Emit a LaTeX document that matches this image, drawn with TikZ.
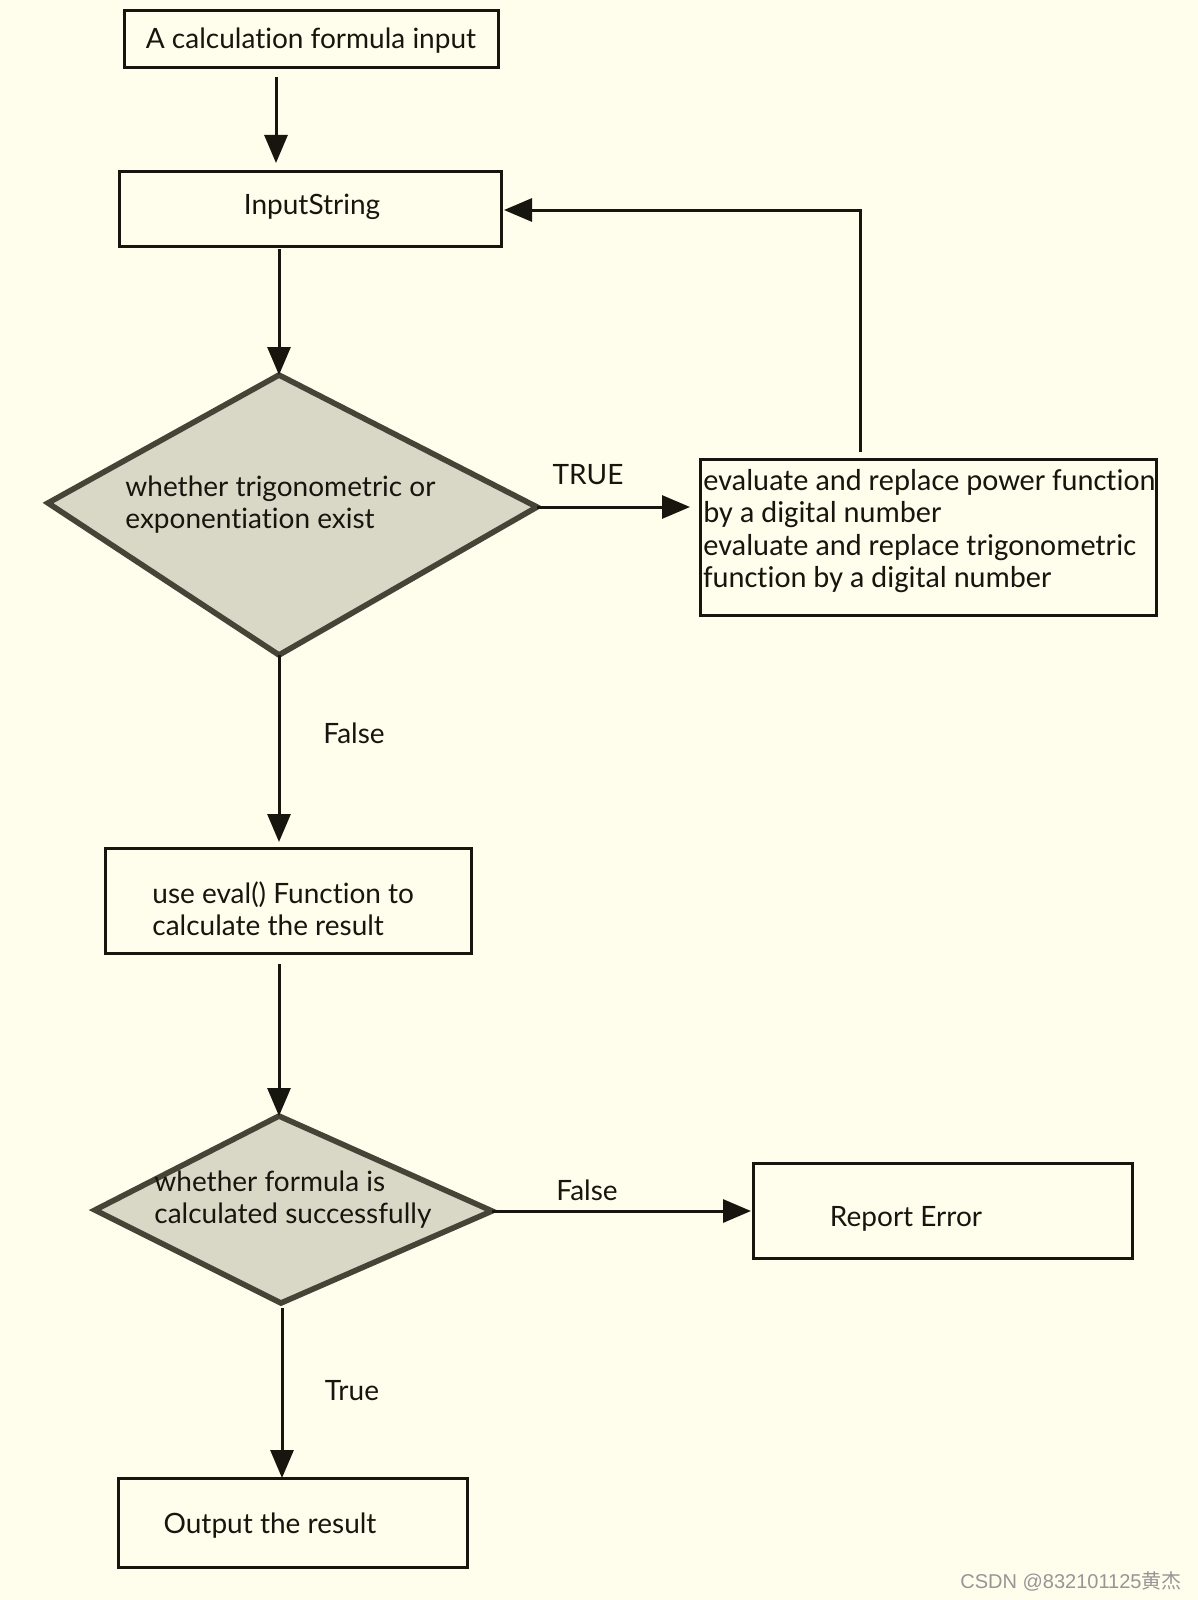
\documentclass[tikz,border=0pt]{standalone}
\usepackage{fontspec}
\setmainfont{Lato}[Ligatures=NoCommon]
\newfontfamily\boxfont{Carlito}[Ligatures=NoCommon]
\newfontfamily\wmfont{Liberation Sans}
\newfontfamily\cjkfont{Noto Sans CJK SC}
\usetikzlibrary{arrows.meta,calc,fit}
\definecolor{bg}{RGB}{255,253,236}
\definecolor{dfill}{RGB}{217,216,199}
\definecolor{dline}{RGB}{70,68,54}
\definecolor{ink}{RGB}{22,22,14}
\definecolor{wm}{RGB}{150,150,150}
\begin{document}
\begin{tikzpicture}[x=0.5pt,y=-0.5pt,
  box/.style={draw=ink, line width=1.5pt, fill=bg, inner sep=0pt, outer sep=0pt},
  dia/.style={draw=dline, line width=2.8pt, fill=dfill, line join=miter},
  txt/.style={inner sep=0pt, text=ink, font={\fontsize{14}{16}\selectfont}},
  mtxt/.style={txt, align=left, anchor=west},
  arr/.style={draw=ink, line width=1.5pt, -{Triangle[length=14pt,width=11.5pt]}},
  line/.style={draw=ink, line width=1.5pt}]
\useasboundingbox (0,0) rectangle (1198,1600);
\fill[bg] (0,0) rectangle (1198,1600);

% boxes
\node[box, fit={(124,11)(498,68)}] (b1) {};
\node[txt] at ($(b1.center)+(0,1)$) {A calculation formula input};
\node[box, fit={(119,171)(501,246)}] (b2) {};
\node[txt] at ($(b2.center)+(2,-2)$) {InputString};
\node[box, fit={(700,459)(1156,615)}] (b3) {};
\node[mtxt, font={\boxfont\fontsize{15.2}{16.2}\selectfont}] at (703,531)
  {evaluate and replace power function\\by a digital number\\evaluate and replace trigonometric\\function by a digital number};
\node[box, fit={(105,848)(471,953)}] (b4) {};
\node[mtxt] at (152,909) {use eval() Function to\\calculate the result};
\node[box, fit={(753,1163)(1132,1258)}] (b5) {};
\node[txt] at (906,1219) {Report Error};
\node[box, fit={(118,1478)(467,1567)}] (b6) {};
\node[txt] at (270,1526) {Output the result};

% diamonds
\coordinate (d1t) at (279,375);
\coordinate (d1r) at (537,507);
\coordinate (d1b) at (279,655);
\coordinate (d1l) at (48,503);
\draw[dia] (d1t) -- (d1r) -- (d1b) -- (d1l) -- cycle;
\node[mtxt] at (125,505) {whether trigonometric or\\exponentiation exist};

\coordinate (d2t) at (279,1116);
\coordinate (d2r) at (492,1211);
\coordinate (d2b) at (281,1303);
\coordinate (d2l) at (95,1210);
\draw[dia] (d2t) -- (d2r) -- (d2b) -- (d2l) -- cycle;
\node[mtxt] at (154,1200) {whether formula is\\calculated successfully};

% connectors
\draw[arr] ($(b1.south)+(-35,9)$) -- ($(b2.north)+(-34,-8)$);
\draw[arr] ($(b2.south -| d1t)+(0,3)$) -- (d1t);
\draw[arr] (d1r) -- ($(d1r -| b3.west)+(-10,0)$);
\draw[arr] ($(b3.north)+(-68,-7)$) |- ($(b2.east)+(3,1.5)$);
\draw[arr] (d1b) -- ($(b4.north -| d1b)+(0,-6)$);
\draw[arr] ($(b4.south -| d2t)+(0,11)$) -- (d2t);
\draw[arr] (d2r) -- ($(d2r -| b5.west)+(-2,0)$);
\coordinate (c6) at ($(d2b)+(1,5)$);
\draw[arr] (c6) -- (c6 |- b6.north);

% labels
\node[txt] (lt1) at (588,475) {TRUE};
\node[txt] (lf1) at (354,733) {False};
\node[txt] (lf2) at (587,1190) {False};
\node[txt] (lt2) at (352,1391) {True};

% watermark
\node[inner sep=0pt, anchor=east, text=wm, font={\wmfont\fontsize{10}{12}\selectfont}] (wm) at (1182,1581) {CSDN @832101125{\cjkfont 黄杰}};
\end{tikzpicture}
\end{document}
